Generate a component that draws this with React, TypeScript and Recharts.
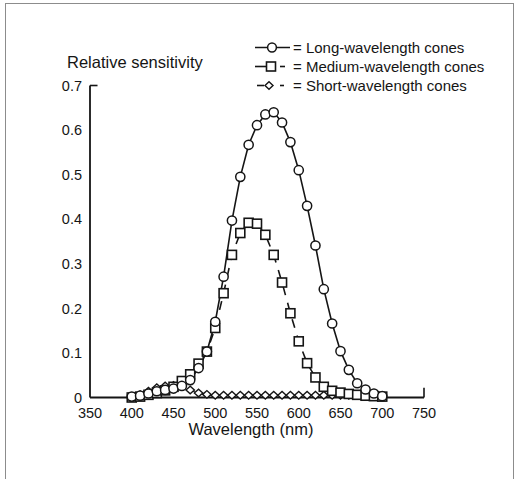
import React from 'react';
import {
    LineChart,
    Line,
    XAxis,
    YAxis,
    ReferenceLine,
} from 'recharts';

const wavelengths = [
    400, 410, 420, 430, 440, 450, 460, 470, 480, 490, 500, 510, 520, 530, 540, 550,
    560, 570, 580, 590, 600, 610, 620, 630, 640, 650, 660, 670, 680, 690, 700,
];

const longCones = [
    0.002, 0.004, 0.009, 0.014, 0.017, 0.02, 0.026, 0.039, 0.066, 0.103, 0.17, 0.271,
    0.397, 0.495, 0.567, 0.611, 0.635, 0.64, 0.617, 0.573, 0.51, 0.43, 0.341, 0.243,
    0.166, 0.104, 0.062, 0.032, 0.018, 0.009, 0.003,
];

const mediumCones = [
    0.0, 0.002, 0.006, 0.01, 0.016, 0.024, 0.037, 0.052, 0.076, 0.103, 0.156, 0.234,
    0.32, 0.369, 0.392, 0.39, 0.365, 0.32, 0.258, 0.189, 0.126, 0.077, 0.045, 0.024,
    0.015, 0.011, 0.008, 0.006, 0.004, 0.003, 0.002,
];

const shortCones = [
    0.001, 0.006, 0.014, 0.022, 0.026, 0.027, 0.025, 0.017, 0.01, 0.007, 0.005, 0.005,
    0.005, 0.005, 0.005, 0.005, 0.005, 0.005, 0.005, 0.005, 0.005, 0.005, 0.005, 0.005,
    0.005, 0.005, 0.005, 0.005, 0.005, 0.004, 0.004,
];

const xTicks = [350, 400, 450, 500, 550, 600, 650, 700, 750];
const yTicks = [0, 0.1, 0.2, 0.3, 0.4, 0.5, 0.6, 0.7];

const legendItems = [
    { key: 'long', label: '= Long-wavelength cones' },
    { key: 'medium', label: '= Medium-wavelength cones' },
    { key: 'short', label: '= Short-wavelength cones' },
];

const data = wavelengths.map((w, i) => ({
    wavelength: w,
    long: longCones[i],
    medium: mediumCones[i],
    short: shortCones[i],
}));

const INK = '#151515';
const FONT = '"Liberation Sans", Arial, Helvetica, sans-serif';

const CircleDot = (props: any) => {
    const { cx, cy, index } = props;
    return <circle key={`c-${index}`} cx={cx} cy={cy} r={4.6} fill="#fff" stroke={INK} strokeWidth={1.5} />;
};

const SquareDot = (props: any) => {
    const { cx, cy, index } = props;
    return (
        <rect key={`s-${index}`} x={cx - 4.5} y={cy - 4.5} width={9} height={9} fill="#fff" stroke={INK} strokeWidth={1.6} />
    );
};

const DiamondDot = (props: any) => {
    const { cx, cy, index } = props;
    return (
        <path
            key={`d-${index}`}
            d={`M${cx - 4.2},${cy} L${cx},${cy - 3.8} L${cx + 4.2},${cy} L${cx},${cy + 3.8} Z`}
            fill="#fff"
            stroke={INK}
            strokeWidth={1.4}
        />
    );
};

const LegendSymbol = ({ kind }: { kind: string }) => {
    if (kind === 'long') {
        return (
            <svg width={36} height={19}>
                <line x1={0} y1={9.5} x2={35} y2={9.5} stroke={INK} strokeWidth={1.6} />
                <circle cx={17} cy={9.5} r={4.4} fill="#fff" stroke={INK} strokeWidth={1.5} />
            </svg>
        );
    }
    if (kind === 'medium') {
        return (
            <svg width={36} height={19}>
                <line x1={0} y1={9.5} x2={12} y2={9.5} stroke={INK} strokeWidth={1.6} />
                <rect x={11.5} y={5} width={9} height={9} fill="#fff" stroke={INK} strokeWidth={1.6} />
                <line x1={25} y1={9.5} x2={30} y2={9.5} stroke={INK} strokeWidth={1.6} />
            </svg>
        );
    }
    return (
        <svg width={36} height={19}>
            <line x1={2} y1={9.5} x2={9} y2={9.5} stroke={INK} strokeWidth={1.6} />
            <path d="M10,9.5 L14,5.8 L18,9.5 L14,13.2 Z" fill="#fff" stroke={INK} strokeWidth={1.4} />
            <line x1={25} y1={9.5} x2={29} y2={9.5} stroke={INK} strokeWidth={1.6} />
        </svg>
    );
};

const ConeLegend = () => (
    <div style={{ position: 'absolute', left: 255, top: 37.5, fontFamily: FONT, fontSize: 15, color: INK }}>
        {legendItems.map((item) => (
            <div key={item.key} style={{ display: 'flex', alignItems: 'center', height: 19, lineHeight: '19px' }}>
                <LegendSymbol kind={item.key} />
                <span style={{ marginLeft: 2, whiteSpace: 'nowrap' }}>{item.label}</span>
            </div>
        ))}
    </div>
);

const tickStyle = { fontFamily: FONT, fontSize: 14.5, fill: INK };

export default function App() {
    return (
        <div style={{ position: 'absolute', left: 0, top: 0, width: 518, height: 479, background: '#fff', overflow: 'hidden' }}>
            <div
                style={{
                    position: 'absolute',
                    left: 5,
                    top: 3,
                    width: 507,
                    height: 520,
                    border: '1px solid #8c8c8c',
                }}
            />
            <div
                style={{
                    position: 'absolute',
                    left: 67,
                    top: 54,
                    fontFamily: FONT,
                    fontSize: 16.5,
                    lineHeight: 1,
                    color: INK,
                    whiteSpace: 'nowrap',
                }}
            >
                Relative sensitivity
            </div>
            <div
                style={{
                    position: 'absolute',
                    left: 0,
                    width: 502,
                    top: 421,
                    textAlign: 'center',
                    fontFamily: FONT,
                    fontSize: 16.5,
                    lineHeight: 1,
                    color: INK,
                }}
            >
                Wavelength (nm)
            </div>
            <ConeLegend />
            <LineChart
                width={518}
                height={479}
                data={data}
                margin={{ top: 85.5, right: 94, bottom: 51.5, left: 30 }}
                style={{ position: 'absolute', left: 0, top: 0 }}
            >
                <XAxis
                    dataKey="wavelength"
                    type="number"
                    domain={[350, 750]}
                    ticks={xTicks}
                    interval={0}
                    height={30}
                    tickLine={false}
                    tickMargin={4}
                    tick={tickStyle}
                    axisLine={{ stroke: INK, strokeWidth: 1.8 }}
                />
                <YAxis
                    type="number"
                    domain={[0, 0.7]}
                    ticks={yTicks}
                    interval={0}
                    width={60}
                    tickLine={false}
                    tick={tickStyle}
                    axisLine={{ stroke: INK, strokeWidth: 1.8 }}
                />
                <ReferenceLine
                    segment={[{ x: 750, y: 0 }, { x: 750, y: 0.022 }]}
                    stroke={INK}
                    strokeWidth={1.6}
                    ifOverflow="visible"
                />
                <ReferenceLine
                    segment={[{ x: 350, y: 0.7 }, { x: 359, y: 0.7 }]}
                    stroke={INK}
                    strokeWidth={1.6}
                    ifOverflow="visible"
                />
                <Line
                    dataKey="short"
                    type="linear"
                    stroke={INK}
                    strokeWidth={1.4}
                    strokeDasharray="6 4"
                    dot={DiamondDot}
                    activeDot={false}
                    isAnimationActive={false}
                />
                <Line
                    dataKey="medium"
                    type="linear"
                    stroke={INK}
                    strokeWidth={1.6}
                    strokeDasharray="9 8"
                    dot={SquareDot}
                    activeDot={false}
                    isAnimationActive={false}
                />
                <Line
                    dataKey="long"
                    type="linear"
                    stroke={INK}
                    strokeWidth={1.6}
                    dot={CircleDot}
                    activeDot={false}
                    isAnimationActive={false}
                />
            </LineChart>
        </div>
    );
}
